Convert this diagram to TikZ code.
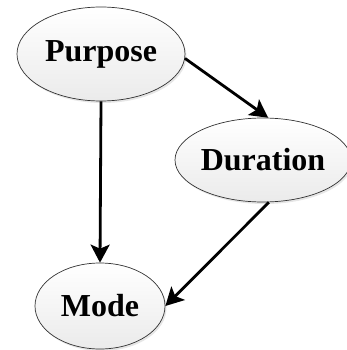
\documentclass[tikz,border=0pt]{standalone}
\usepackage{fontspec}
\setmainfont{Liberation Serif}
\usetikzlibrary{shapes.geometric,arrows.meta,shadows}
\begin{document}
\begin{tikzpicture}[x=1pt,y=1pt,
  topic/.style={ellipse, draw=black!80, line width=0.7pt, inner sep=0pt,
    top color=white, bottom color=black!8, middle color=black!4,
    drop shadow={shadow xshift=1.5pt, shadow yshift=-2pt, opacity=0.2, fill=black!50},
    font=\fontsize{32}{34}\selectfont\bfseries},
  link/.style={line width=2.8pt, -{Stealth[length=18pt,width=19pt,inset=4pt]}}]
  \useasboundingbox (0,0) rectangle (347,-350);
  \node[topic, minimum width=168pt, minimum height=94pt] (P) at (101,-54) {Purpose};
  \node[topic, minimum width=162pt, minimum height=84pt] (D) at (263,-160) {Duration};
  \node[topic, minimum width=130pt, minimum height=86pt] (M) at (100,-306) {Mode};
  \draw[link] (P.-3) -- (D.83);
  \draw[link] (P.south) -- (M.north);
  \draw[link] (D.-82) -- (M.east);
\end{tikzpicture}
\end{document}
